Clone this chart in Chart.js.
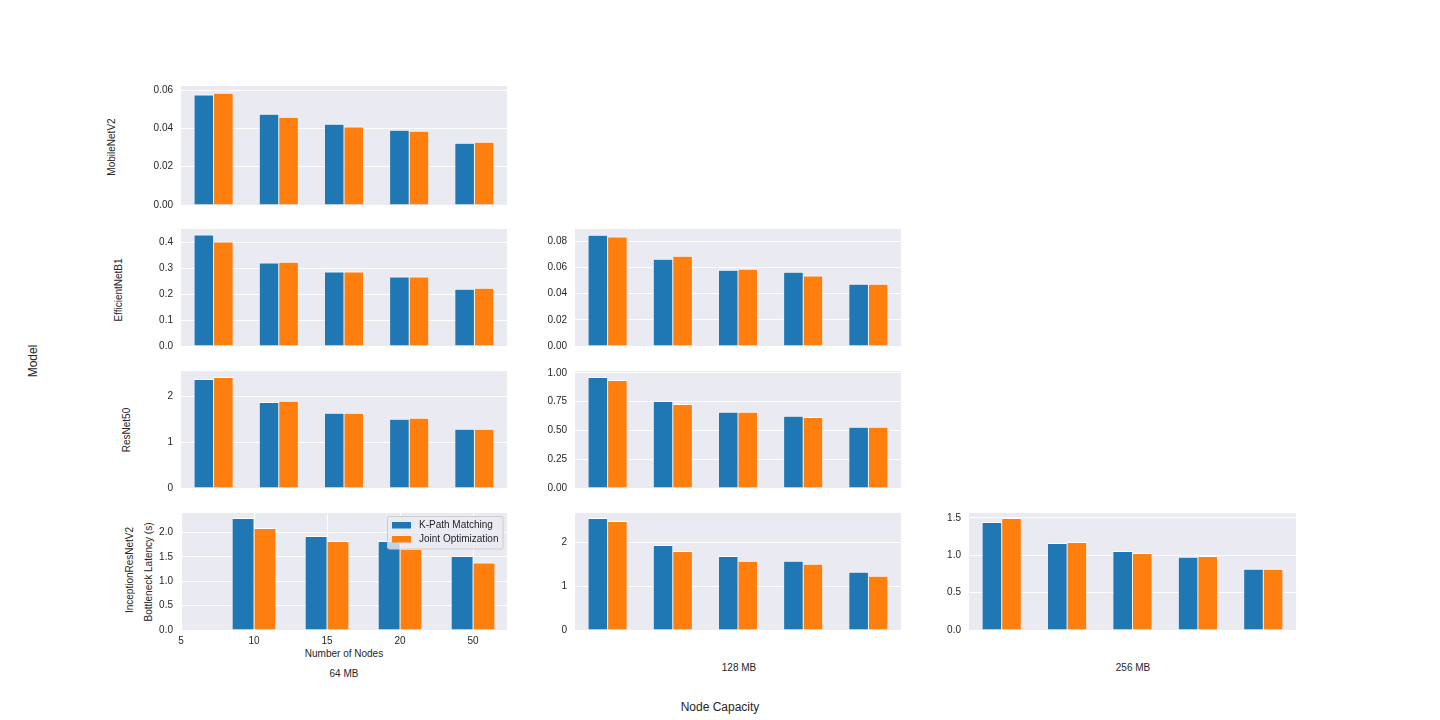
<!DOCTYPE html>
<html>
<head>
<meta charset="utf-8">
<script src="https://cdn.jsdelivr.net/npm/chart.js@4.4.1/dist/chart.umd.min.js"></script>
<style>
  body { margin: 0; width: 1440px; height: 720px; background: #fff; position: relative; overflow: hidden;
         font-family: "Liberation Sans", Arial, sans-serif; color: #262626; }
  canvas { position: absolute; }
  .lbl { position: absolute; font-size: 10px; white-space: nowrap; line-height: 1; transform: translate(-50%, -50%); }
  .big { font-size: 12px; }
  .rot { transform: translate(-50%, -50%) rotate(-90deg); }
</style>
</head>
<body>
<div class="lbl big rot" style="left:33px;top:361px">Model</div>
<div class="lbl big" style="left:720px;top:707px">Node Capacity</div>
<div class="lbl" style="left:344px;top:674px">64 MB</div>
<div class="lbl" style="left:739px;top:668px">128 MB</div>
<div class="lbl" style="left:1133px;top:668px">256 MB</div>
<div class="lbl" style="left:344px;top:654px">Number of Nodes</div>
<div class="lbl rot" style="left:112px;top:147px">MobileNetV2</div>
<div class="lbl rot" style="left:119px;top:290px">EfficientNetB1</div>
<div class="lbl rot" style="left:127px;top:430px">ResNet50</div>
<div class="lbl rot" style="left:130px;top:570px">InceptionResNetV2</div>
<div class="lbl rot" style="left:149px;top:572px">Bottleneck Latency (s)</div>

<script>
// Number of nodes on the x axis
const NODES = ["5", "10", "15", "20", "50"]
const SERIES = ["K-Path Matching", "Joint Optimization"]

// Bottleneck latency (s)
const MOBILENET_64_KPATH = [0.0576, 0.0476, 0.0424, 0.0393, 0.0325]
const MOBILENET_64_JOINT = [0.0586, 0.0461, 0.0409, 0.0388, 0.0330]
const EFFNET_64_KPATH = [0.430, 0.322, 0.287, 0.268, 0.221]
const EFFNET_64_JOINT = [0.403, 0.325, 0.287, 0.268, 0.225]
const EFFNET_128_KPATH = [0.0851, 0.0667, 0.0583, 0.0568, 0.0476]
const EFFNET_128_JOINT = [0.0836, 0.0690, 0.0591, 0.0538, 0.0476]
const RESNET_64_KPATH = [2.377, 1.877, 1.638, 1.507, 1.290]
const RESNET_64_JOINT = [2.420, 1.899, 1.638, 1.529, 1.290]
const RESNET_128_KPATH = [0.965, 0.757, 0.662, 0.627, 0.532]
const RESNET_128_JOINT = [0.939, 0.731, 0.662, 0.618, 0.532]
const INCEPTION_64_KPATH = [null, 2.300, 1.932, 1.829, 1.522]
const INCEPTION_64_JOINT = [null, 2.096, 1.829, 1.670, 1.386]
const INCEPTION_128_KPATH = [2.563, 1.947, 1.696, 1.582, 1.331]
const INCEPTION_128_JOINT = [2.494, 1.810, 1.582, 1.513, 1.240]
const INCEPTION_256_KPATH = [1.446, 1.166, 1.059, 0.979, 0.819]
const INCEPTION_256_JOINT = [1.500, 1.179, 1.032, 0.992, 0.819]

// y tick labels per panel
const TICKS_MOBILENET_64 = [0, 0.02, 0.04, 0.06]
const TICKS_EFFNET_64 = [0, 0.1, 0.2, 0.3, 0.4]
const TICKS_EFFNET_128 = [0, 0.02, 0.04, 0.06, 0.08]
const TICKS_RESNET_64 = [0, 1, 2]
const TICKS_RESNET_128 = [0, 0.25, 0.5, 0.75, 1.0]
const TICKS_INCEPTION_64 = [0, 0.5, 1.0, 1.5, 2.0]
const TICKS_INCEPTION_128 = [0, 1, 2]
const TICKS_INCEPTION_256 = [0, 0.5, 1.0, 1.5]

const BLUE = "#1f77b4"
const ORANGE = "#ff7f0e"
const PANEL_BG = "#eaeaf2"
const TEXT = "#262626"
const FONT = { family: '"Liberation Sans", Arial, sans-serif', size: 10 }

// space round each plot area inside its canvas
const PAD_L = 70, PAD_T = 12, PAD_R = 8, PAD_B = 30

const panelBackground = {
  id: "panelBackground",
  beforeDraw(chart) {
    const a = chart.chartArea
    chart.ctx.save()
    chart.ctx.fillStyle = PANEL_BG
    chart.ctx.fillRect(a.left, a.top, a.right - a.left, a.bottom - a.top)
    chart.ctx.restore()
  }
}

// matplotlib-like legend box drawn inside the plot area
const insideLegend = {
  id: "insideLegend",
  afterDraw(chart, args, opts) {
    if (!opts.show) return
    const ctx = chart.ctx, a = chart.chartArea
    const bw = 115.5, bh = 32.5
    const x = a.right - 4 - bw, y = a.top + 3.5
    ctx.save()
    ctx.beginPath()
    ctx.roundRect(x, y, bw, bh, 2)
    ctx.fillStyle = "rgba(234,234,242,0.8)"
    ctx.fill()
    ctx.strokeStyle = "#cccccc"
    ctx.lineWidth = 1
    ctx.stroke()
    ctx.font = `${FONT.size}px ${FONT.family}`
    ctx.textBaseline = "middle"
    chart.data.datasets.forEach((ds, i) => {
      const cy = y + 8.5 + i * 14
      ctx.fillStyle = ds.backgroundColor
      ctx.fillRect(x + 4.5, cy - 3, 19, 6.5)
      ctx.fillStyle = TEXT
      ctx.fillText(ds.label, x + 31.5, cy + 0.5)
    })
    ctx.restore()
  }
}

function fmt(decimals) {
  return v => Number(v).toFixed(decimals)
}

function panelConfig({ kpath, joint, yMax, yTicks, decimals, nodesAxis = false, legend = false }) {
  const toData = arr => nodesAxis ? arr.map((v, i) => ({ x: i, y: v })) : arr
  const barStyle = {
    borderColor: "#ffffff",
    borderWidth: { top: 1, left: 0.5, right: 0.5, bottom: 0 },
    borderSkipped: false,
    categoryPercentage: 0.6,
    barPercentage: 1.0
  }

  const xScale = nodesAxis ? {
    type: "linear",
    min: 0,
    max: 4.465,
    offset: false,
    afterBuildTicks: s => { s.ticks = NODES.map((_, i) => ({ value: i })) },
    ticks: { callback: v => NODES[v], color: TEXT, font: FONT, padding: 5, maxRotation: 0 },
    grid: { color: "#ffffff", lineWidth: 1, drawTicks: false, offset: false },
    border: { display: false },
    afterFit: s => { s.height = PAD_B }
  } : {
    type: "category",
    offset: true,
    ticks: { display: false },
    grid: { display: false, drawTicks: false },
    border: { display: false },
    afterFit: s => { s.height = PAD_B }
  }

  return {
    type: "bar",
    data: {
      labels: NODES,
      datasets: [
        { label: SERIES[0], data: toData(kpath), backgroundColor: BLUE, ...barStyle },
        { label: SERIES[1], data: toData(joint), backgroundColor: ORANGE, ...barStyle }
      ]
    },
    options: {
      responsive: false,
      maintainAspectRatio: false,
      animation: false,
      devicePixelRatio: 1,
      layout: { padding: { top: PAD_T, right: PAD_R, left: 0, bottom: 0 } },
      plugins: {
        legend: { display: false },
        tooltip: { enabled: false },
        insideLegend: { show: legend }
      },
      scales: {
        x: xScale,
        y: {
          min: 0,
          max: yMax,
          afterBuildTicks: s => { s.ticks = yTicks.map(v => ({ value: v })) },
          ticks: { callback: fmt(decimals), color: TEXT, font: FONT, padding: 8 },
          grid: { color: "#ffffff", lineWidth: 1, drawTicks: false },
          border: { display: false },
          afterFit: s => { s.width = PAD_L }
        }
      }
    },
    plugins: [panelBackground, insideLegend]
  }
}

function makePanel(rect, spec) {
  const [l, t, r, b] = rect
  const w = r - l + PAD_L + PAD_R

  // first pass only measures where the layout puts the plot area
  const probe = document.createElement("canvas")
  probe.width = w
  probe.height = b - t + PAD_T + PAD_B
  probe.style.visibility = "hidden"
  document.body.appendChild(probe)
  const first = new Chart(probe, panelConfig(spec))
  const top = first.chartArea.top
  const bottomRoom = probe.height - first.chartArea.bottom
  first.destroy()
  probe.remove()

  const canvas = document.createElement("canvas")
  canvas.width = w
  canvas.height = top + (b - t) + bottomRoom
  document.body.appendChild(canvas)
  const chart = new Chart(canvas, panelConfig(spec))
  canvas.style.left = (l - chart.chartArea.left) + "px"
  canvas.style.top = (t - chart.chartArea.top) + "px"
  return chart
}

const COL = [[181, 507], [575, 901], [969, 1296]]
const ROW = [[86, 205], [229, 346], [371, 488], [513, 630]]
const rectAt = (row, col) => [COL[col][0], ROW[row][0], COL[col][1], ROW[row][1]]

makePanel(rectAt(0, 0), { kpath: MOBILENET_64_KPATH, joint: MOBILENET_64_JOINT, yMax: 0.0621, yTicks: TICKS_MOBILENET_64, decimals: 2 })
makePanel(rectAt(1, 0), { kpath: EFFNET_64_KPATH, joint: EFFNET_64_JOINT, yMax: 0.451, yTicks: TICKS_EFFNET_64, decimals: 1 })
makePanel(rectAt(1, 1), { kpath: EFFNET_128_KPATH, joint: EFFNET_128_JOINT, yMax: 0.0894, yTicks: TICKS_EFFNET_128, decimals: 2 })
makePanel(rectAt(2, 0), { kpath: RESNET_64_KPATH, joint: RESNET_64_JOINT, yMax: 2.55, yTicks: TICKS_RESNET_64, decimals: 0 })
makePanel(rectAt(2, 1), { kpath: RESNET_128_KPATH, joint: RESNET_128_JOINT, yMax: 1.017, yTicks: TICKS_RESNET_128, decimals: 2 })
makePanel(rectAt(3, 0), { kpath: INCEPTION_64_KPATH, joint: INCEPTION_64_JOINT, yMax: 2.403, yTicks: TICKS_INCEPTION_64, decimals: 1, nodesAxis: true, legend: true })
makePanel(rectAt(3, 1), { kpath: INCEPTION_128_KPATH, joint: INCEPTION_128_JOINT, yMax: 2.677, yTicks: TICKS_INCEPTION_128, decimals: 0 })
makePanel(rectAt(3, 2), { kpath: INCEPTION_256_KPATH, joint: INCEPTION_256_JOINT, yMax: 1.566, yTicks: TICKS_INCEPTION_256, decimals: 1 })
</script>
</body>
</html>
